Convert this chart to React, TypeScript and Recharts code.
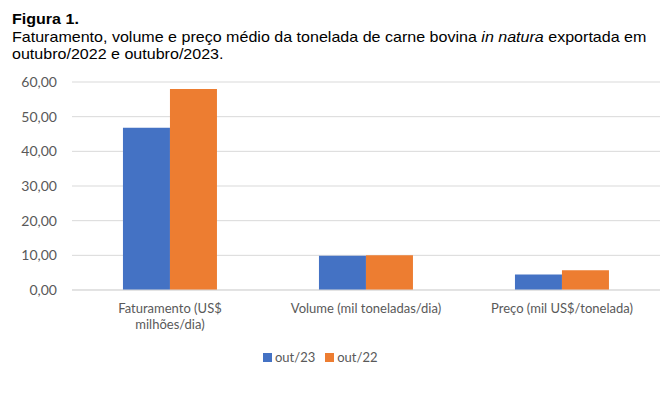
import React from "react";
import {
  BarChart,
  Bar,
  XAxis,
  YAxis,
  CartesianGrid,
  Legend,
} from "recharts";

const categories = [
  "Faturamento (US$ milhões/dia)",
  "Volume (mil toneladas/dia)",
  "Preço (mil US$/tonelada)",
];
const out23 = [46.8, 9.9, 4.5];
const out22 = [58.0, 10.0, 5.7];
const yTicks = [0, 10, 20, 30, 40, 50, 60];

const data = categories.map((c, i) => ({ cat: c, out23: out23[i], out22: out22[i] }));

const AXIS_FONT = "Lato, 'Open Sans', sans-serif";
const fmt = (v: number) => v.toFixed(2).replace(".", ",");

// quebra simples por número de caracteres
function wrap(str: string, max: number) {
  const lines: string[] = [];
  let cur = "";
  str.split(" ").forEach((w) => {
    const next = cur ? cur + " " + w : w;
    if (next.length > max && cur) {
      lines.push(cur);
      cur = w;
    } else {
      cur = next;
    }
  });
  if (cur) lines.push(cur);
  return lines;
}

function CatTick(props: any) {
  const { x, y, payload } = props;
  const lines = wrap(String(payload.value), 26);
  return (
    <text
      x={x}
      y={y + 6}
      textAnchor="middle"
      style={{ fontSize: 13, fontFamily: AXIS_FONT, fill: "#595959" }}
    >
      {lines.map((l, i) => (
        <tspan key={i} x={x} dy={i === 0 ? "0.71em" : 16}>
          {l}
        </tspan>
      ))}
    </text>
  );
}

function LegendBox() {
  const items = [
    { name: "out/23", color: "#4472C4" },
    { name: "out/22", color: "#ED7D31" },
  ];
  return (
    <div style={{ display: "flex", gap: 10, fontFamily: AXIS_FONT, fontSize: 13, color: "#595959" }}>
      {items.map((it) => (
        <div key={it.name} style={{ display: "flex", alignItems: "center", gap: 3 }}>
          <span style={{ width: 9, height: 9, background: it.color, display: "inline-block" }} />
          <span>{it.name}</span>
        </div>
      ))}
    </div>
  );
}

const App: React.FC = () => {
  return (
    <div style={{ position: "absolute", left: 0, top: 0, width: 663, height: 393, background: "#fff" }}>
      <div
        style={{
          position: "absolute",
          left: 12,
          top: 10,
          fontFamily: "'Liberation Sans', Arial, sans-serif",
          fontSize: 15,
          lineHeight: "17.5px",
          color: "#000",
          transform: "scaleX(1.07)",
          transformOrigin: "left top",
          whiteSpace: "nowrap",
        }}
      >
        <div style={{ fontWeight: "bold" }}>Figura 1.</div>
        <div>
          Faturamento, volume e preço médio da tonelada de carne bovina <i>in natura</i> exportada em
          <br />
          outubro/2022 e outubro/2023.
        </div>
      </div>
      <div style={{ position: "absolute", left: 0, top: 0 }}>
        <BarChart
          width={663}
          height={393}
          data={data}
          margin={{ top: 82, right: 3, bottom: 27, left: 0 }}
          barCategoryGap="26%"
          barGap={0}
        >
          <CartesianGrid vertical={false} stroke="#d9d9d9" />
          <XAxis
            dataKey="cat"
            axisLine={{ stroke: "#d9d9d9" }}
            tickLine={false}
            tick={<CatTick />}
            interval={0}
            height={60}
          />
          <YAxis
            width={72}
            domain={[0, 60]}
            ticks={yTicks}
            interval={0}
            tickFormatter={fmt}
            axisLine={false}
            tickLine={false}
            tickSize={0}
            tickMargin={15}
            tick={{ fontSize: 14, fontFamily: AXIS_FONT, fill: "#595959" }}
          />
          <Legend
            content={<LegendBox />}
            wrapperStyle={{ position: "absolute", top: 349, left: 263, width: "auto" }}
          />
          <Bar dataKey="out23" name="out/23" fill="#4472C4" isAnimationActive={false} />
          <Bar dataKey="out22" name="out/22" fill="#ED7D31" isAnimationActive={false} />
        </BarChart>
      </div>
    </div>
  );
};

export default App;
